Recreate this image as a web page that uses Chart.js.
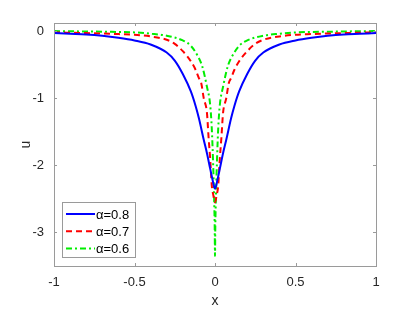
<!DOCTYPE html>
<html lang="en">
<head>
  <meta charset="UTF-8" />
  <title>u(x)</title>
  <script src="https://cdn.jsdelivr.net/npm/chart.js"></script>
  <style>
    body { margin: 0; background: #fff; }
    #wrap { width: 415px; height: 312px; }
  </style>
</head>
<body>
  <div id="wrap"><canvas id="grafico" width="415" height="312"></canvas></div>

  <script>
    // values
    const xBlue = [-1, -0.9, -0.8, -0.7, -0.6, -0.5, -0.4, -0.3, -0.25, -0.2, -0.15, -0.12, -0.1, -0.07, -0.05, -0.03, -0.015, 0,
                   0.015, 0.03, 0.05, 0.07, 0.1, 0.12, 0.15, 0.2, 0.25, 0.3, 0.4, 0.5, 0.6, 0.7, 0.8, 0.9, 1];
    const yBlue = [-0.03, -0.04, -0.05, -0.07, -0.1, -0.14, -0.2, -0.32, -0.44, -0.64, -0.9, -1.12, -1.3, -1.62, -1.82, -2.05, -2.22, -2.35,
                   -2.22, -2.05, -1.82, -1.62, -1.3, -1.12, -0.9, -0.64, -0.44, -0.32, -0.2, -0.14, -0.1, -0.07, -0.05, -0.04, -0.03];

    const xRed = [-1, -0.8, -0.6, -0.5, -0.4, -0.3, -0.25, -0.2, -0.15, -0.12, -0.1, -0.085, -0.07, -0.05, -0.04, -0.03, -0.02, -0.01, 0,
                  0.01, 0.02, 0.03, 0.04, 0.05, 0.07, 0.085, 0.1, 0.12, 0.15, 0.2, 0.25, 0.3, 0.4, 0.5, 0.6, 0.8, 1];
    const yRed = [-0.02, -0.03, -0.045, -0.055, -0.08, -0.13, -0.19, -0.3, -0.45, -0.58, -0.7, -0.78, -1.0, -1.22, -1.58, -1.9, -2.3, -2.45, -2.55,
                  -2.45, -2.3, -1.9, -1.58, -1.22, -1.0, -0.78, -0.7, -0.58, -0.45, -0.3, -0.19, -0.13, -0.08, -0.055, -0.045, -0.03, -0.02];

    const xGreen = [-1, -0.7, -0.5, -0.4, -0.3, -0.2, -0.15, -0.11, -0.08, -0.05, -0.03, -0.02, -0.012, -0.006, -0.002, 0,
                    0.002, 0.006, 0.012, 0.02, 0.03, 0.05, 0.08, 0.11, 0.15, 0.2, 0.3, 0.4, 0.5, 0.7, 1];
    const yGreen = [0.0, -0.01, -0.02, -0.04, -0.07, -0.14, -0.22, -0.36, -0.52, -0.83, -1.1, -1.45, -1.95, -2.45, -2.9, -3.35,
                    -2.9, -2.45, -1.95, -1.45, -1.1, -0.83, -0.52, -0.36, -0.22, -0.14, -0.07, -0.04, -0.02, -0.01, 0.0];

    const nombres = ['α=0.8', 'α=0.7', 'α=0.6'];
    const xTicks = [-1, -0.5, 0, 0.5, 1];
    const yTicks = [-3, -2, -1, 0];

    function puntos(xs, ys) {
      return xs.map((x, i) => ({ x: x, y: ys[i] }));
    }

    // box around the axes with ticks pointing inward, and the legend inside
    const marco = {
      id: 'marco',
      afterDraw(chart) {
        const ctx = chart.ctx;
        const a = chart.chartArea;
        const sx = chart.scales.x, sy = chart.scales.y;
        ctx.save();
        ctx.strokeStyle = '#9a9a9a';
        ctx.lineWidth = 1;
        ctx.strokeRect(Math.round(a.left) + 0.5, Math.round(a.top) + 0.5, Math.round(a.right - a.left), Math.round(a.bottom - a.top));
        ctx.beginPath();
        xTicks.forEach(v => {
          const px = Math.round(sx.getPixelForValue(v)) + 0.5;
          ctx.moveTo(px, a.bottom); ctx.lineTo(px, a.bottom - 3);
          ctx.moveTo(px, a.top); ctx.lineTo(px, a.top + 3);
        });
        yTicks.forEach(v => {
          const py = Math.round(sy.getPixelForValue(v)) + 0.5;
          ctx.moveTo(a.left, py); ctx.lineTo(a.left + 3, py);
          ctx.moveTo(a.right, py); ctx.lineTo(a.right - 3, py);
        });
        ctx.stroke();

        // legend
        const lx = a.left + 8, ly = a.bottom - 64;
        ctx.fillStyle = '#fff';
        ctx.fillRect(lx, ly, 73, 55);
        ctx.strokeStyle = '#9a9a9a';
        ctx.strokeRect(lx + 0.5, ly + 0.5, 73, 55);
        ctx.font = '13px "Liberation Sans", Arial, sans-serif';
        ctx.textBaseline = 'middle';
        chart.data.datasets.forEach((ds, i) => {
          const yy = ly + 12 + i * 17.3;
          ctx.strokeStyle = ds.borderColor;
          ctx.lineWidth = 2;
          ctx.setLineDash(ds.borderDash || []);
          ctx.beginPath();
          ctx.moveTo(lx + 4, yy); ctx.lineTo(lx + 33, yy);
          ctx.stroke();
          ctx.setLineDash([]);
          ctx.fillStyle = '#000';
          ctx.fillText(ds.label, lx + 34, yy + 1);
        });
        ctx.restore();
      }
    };

    const ctx = document.getElementById('grafico').getContext('2d');
    new Chart(ctx, {
      type: 'line',
      data: {
        datasets: [
          { label: nombres[0], data: puntos(xBlue, yBlue), borderColor: '#0000ff', borderWidth: 2 },
          { label: nombres[1], data: puntos(xRed, yRed), borderColor: '#ff0000', borderWidth: 2, borderDash: [6, 4] },
          { label: nombres[2], data: puntos(xGreen, yGreen), borderColor: '#00ee00', borderWidth: 2, borderDash: [6, 3, 2, 3] }
        ]
      },
      options: {
        responsive: false,
        animation: false,
        layout: { padding: { top: 23, right: 39, left: 0, bottom: 0 } },
        elements: { point: { radius: 0 }, line: { cubicInterpolationMode: 'monotone' } },
        plugins: { legend: { display: false }, tooltip: { enabled: false } },
        scales: {
          x: {
            type: 'linear',
            min: -1, max: 1,
            grid: { display: false, drawTicks: false },
            border: { display: false },
            afterFit: s => { s.height = 46; },
            afterBuildTicks: s => { s.ticks = xTicks.map(v => ({ value: v })); },
            ticks: {
              padding: 9,
              color: '#262626',
              font: { family: '"Liberation Sans", Arial, sans-serif', size: 13 },
              maxRotation: 0,
              callback: v => String(v)
            },
            title: { display: true, text: 'x', color: '#262626', padding: { top: 0, bottom: 2 },
                     font: { family: '"Liberation Sans", Arial, sans-serif', size: 14 } }
          },
          y: {
            type: 'linear',
            min: -3.5, max: 0.12,
            grid: { display: false, drawTicks: false },
            border: { display: false },
            afterFit: s => { s.width = 54; },
            afterBuildTicks: s => { s.ticks = yTicks.map(v => ({ value: v })); },
            ticks: {
              padding: 10,
              color: '#262626',
              font: { family: '"Liberation Sans", Arial, sans-serif', size: 13 },
              callback: v => String(v)
            },
            title: { display: true, text: 'u', color: '#262626', padding: { top: 18, bottom: 0 },
                     font: { family: '"Liberation Sans", Arial, sans-serif', size: 14 } }
          }
        }
      },
      plugins: [marco]
    });
  </script>
</body>
</html>
